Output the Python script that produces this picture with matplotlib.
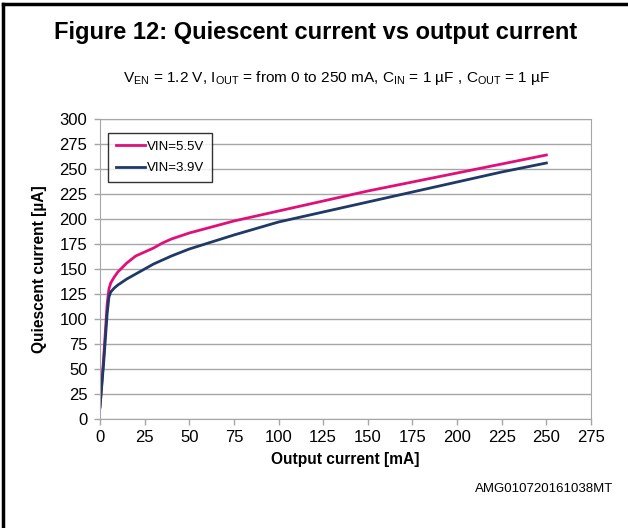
import matplotlib
matplotlib.use("Agg")
import matplotlib.pyplot as plt
from matplotlib.lines import Line2D

plt.rcParams['font.family'] = ['Liberation Sans', 'DejaVu Sans']
plt.rcParams['mathtext.fontset'] = 'custom'
plt.rcParams['mathtext.rm'] = 'Liberation Sans'
plt.rcParams['mathtext.it'] = 'Liberation Sans'

# data
iout_55 = [0, 2, 4, 5, 6, 8, 10, 15, 20, 25, 30, 35, 40, 50, 75, 100, 125, 150, 175, 200, 225, 250]
iq_55 = [12, 60, 115, 130, 136, 142, 147, 156, 163, 167, 171, 176, 180, 186, 198, 208, 218, 228, 237, 246, 255, 264]
iout_39 = [0, 2, 4, 5, 6, 8, 10, 15, 20, 25, 30, 40, 50, 75, 100, 125, 150, 175, 200, 225, 250]
iq_39 = [12, 55, 105, 122, 127, 131, 134, 140, 145, 150, 155, 163, 170, 184, 197, 207, 217, 227, 237, 247, 256]

pink = '#E0107A'
navy = '#1F3A66'
grid_c = '#A6A6A6'

fig = plt.figure(figsize=(6.28, 5.28), dpi=100)
ax = fig.add_axes([100/628, 1-419/528, 491/628, 300/528])

ax.plot(iout_55, iq_55, color=pink, lw=2, label='VIN=5.5V')
ax.plot(iout_39, iq_39, color=navy, lw=2, label='VIN=3.9V')

ax.set_xlim(0, 275)
ax.set_ylim(0, 300)
ax.set_xticks(range(0, 276, 25))
ax.set_yticks(range(0, 301, 25))
ax.grid(axis='y', color=grid_c, lw=1)
ax.set_axisbelow(True)
for s in ax.spines.values():
    s.set_color(grid_c)
ax.tick_params(colors=grid_c, labelcolor='black', labelsize=12, length=4, width=1)
ax.tick_params(axis='y', pad=5)
ax.tick_params(axis='x', pad=4)

ax.set_xlabel('Output current [mA]', fontsize=11.2, fontweight='bold', labelpad=5)
ax.set_ylabel('Quiescent current [µA]', fontsize=11.2, fontweight='bold', labelpad=9)

leg = ax.legend(loc='upper left', bbox_to_anchor=(0.016, 0.955), fontsize=9.5,
                frameon=True, fancybox=False, handlelength=2.2, handletextpad=0.15,
                labelspacing=0.7, borderpad=0.6, borderaxespad=0)
leg.get_frame().set_edgecolor('black')
leg.get_frame().set_linewidth(1)

fig.text(0.503, 1-33/528, 'Figure 12: Quiescent current vs output current',
         ha='center', va='center', fontsize=17, fontweight='bold')
fig.text(336.5/628, 1-78/528,
         r'V$_{\mathrm{EN}}$ = 1.2 V, I$_{\mathrm{OUT}}$ = from 0 to 250 mA, '
         r'C$_{\mathrm{IN}}$ = 1 µF , C$_{\mathrm{OUT}}$ = 1 µF',
         ha='center', va='center', fontsize=11.1)
fig.text(613/628, 1-489/528, 'AMG010720161038MT', ha='right', va='center', fontsize=9.5)

# frame lines (top and left)
fig.add_artist(Line2D([3/628, 1], [1-4/528, 1-4/528], color='black', lw=2.5))
fig.add_artist(Line2D([3/628, 3/628], [0, 1-4/528], color='black', lw=2.5))

fig.savefig('out.png', dpi=100)
